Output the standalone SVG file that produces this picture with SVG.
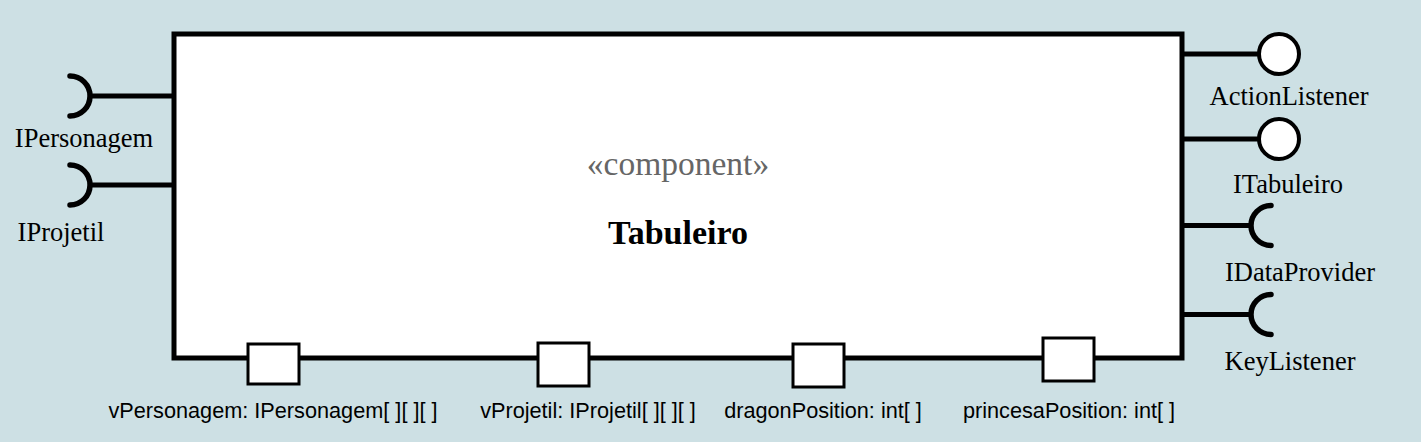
<svg xmlns="http://www.w3.org/2000/svg" width="1421" height="442" viewBox="0 0 1421 442">
<style>
.bg{fill:#cde0e4}
.comp{fill:#fff;stroke:#000;stroke-width:5}
.port{fill:#fff;stroke:#000;stroke-width:3}
.ln{fill:none;stroke:#000;stroke-width:5}
.sock{fill:none;stroke:#000;stroke-width:5.5;stroke-linecap:round}
.lol{fill:#fff;stroke:#000;stroke-width:4}
.lbl{font-family:"Liberation Serif",serif;font-size:26.5px;fill:#000;text-anchor:middle}
.plbl{font-family:"Liberation Sans",sans-serif;font-size:21.7px;fill:#000;text-anchor:middle}
.st{font-family:"Liberation Serif",serif;font-size:33.5px;fill:#666;text-anchor:middle}
.nm{font-family:"Liberation Serif",serif;font-size:34px;font-weight:bold;fill:#000;text-anchor:middle}
</style>
<rect class="bg" x="0" y="0" width="1421" height="442"/>
<g id="connectors">
<line class="ln" x1="92" y1="96" x2="174" y2="96"/>
<line class="ln" x1="92" y1="185" x2="174" y2="185"/>
<line class="ln" x1="1182" y1="54" x2="1260" y2="54"/>
<line class="ln" x1="1182" y1="139" x2="1260" y2="139"/>
<line class="ln" x1="1182" y1="225.5" x2="1250" y2="225.5"/>
<line class="ln" x1="1182" y1="314.5" x2="1250" y2="314.5"/>
</g>
<g id="Tabuleiro">
<rect class="comp" x="174" y="34" width="1008" height="324"/>
<text class="st" x="678" y="175">«component»</text>
<text class="nm" x="678" y="244">Tabuleiro</text>
</g>
<g id="IPersonagem">
<path class="sock" d="M70,76 A20,20 0 0 1 70,116"/>
<text class="lbl" x="84" y="147">IPersonagem</text>
</g>
<g id="IProjetil">
<path class="sock" d="M70,165 A20,20 0 0 1 70,205"/>
<text class="lbl" x="61" y="241">IProjetil</text>
</g>
<g id="ActionListener">
<circle class="lol" cx="1279" cy="54" r="20"/>
<text class="lbl" x="1289" y="105">ActionListener</text>
</g>
<g id="ITabuleiro">
<circle class="lol" cx="1279" cy="139" r="20"/>
<text class="lbl" x="1288" y="193">ITabuleiro</text>
</g>
<g id="IDataProvider">
<path class="sock" d="M1271,205.5 A20,20 0 0 0 1271,245.5"/>
<text class="lbl" x="1300" y="281">IDataProvider</text>
</g>
<g id="KeyListener">
<path class="sock" d="M1271,294.5 A20,20 0 0 0 1271,334.5"/>
<text class="lbl" x="1290" y="370">KeyListener</text>
</g>
<g id="port-vPersonagem">
<rect class="port" x="248" y="344" width="51" height="40"/>
<text class="plbl" x="273" y="418">vPersonagem: IPersonagem[ ][ ][ ]</text>
</g>
<g id="port-vProjetil">
<rect class="port" x="538" y="343" width="51" height="43"/>
<text class="plbl" x="588" y="418">vProjetil: IProjetil[ ][ ][ ]</text>
</g>
<g id="port-dragonPosition">
<rect class="port" x="793" y="344" width="51" height="43"/>
<text class="plbl" x="823" y="418">dragonPosition: int[ ]</text>
</g>
<g id="port-princesaPosition">
<rect class="port" x="1043" y="338" width="51" height="43"/>
<text class="plbl" x="1069" y="418">princesaPosition: int[ ]</text>
</g>
</svg>
